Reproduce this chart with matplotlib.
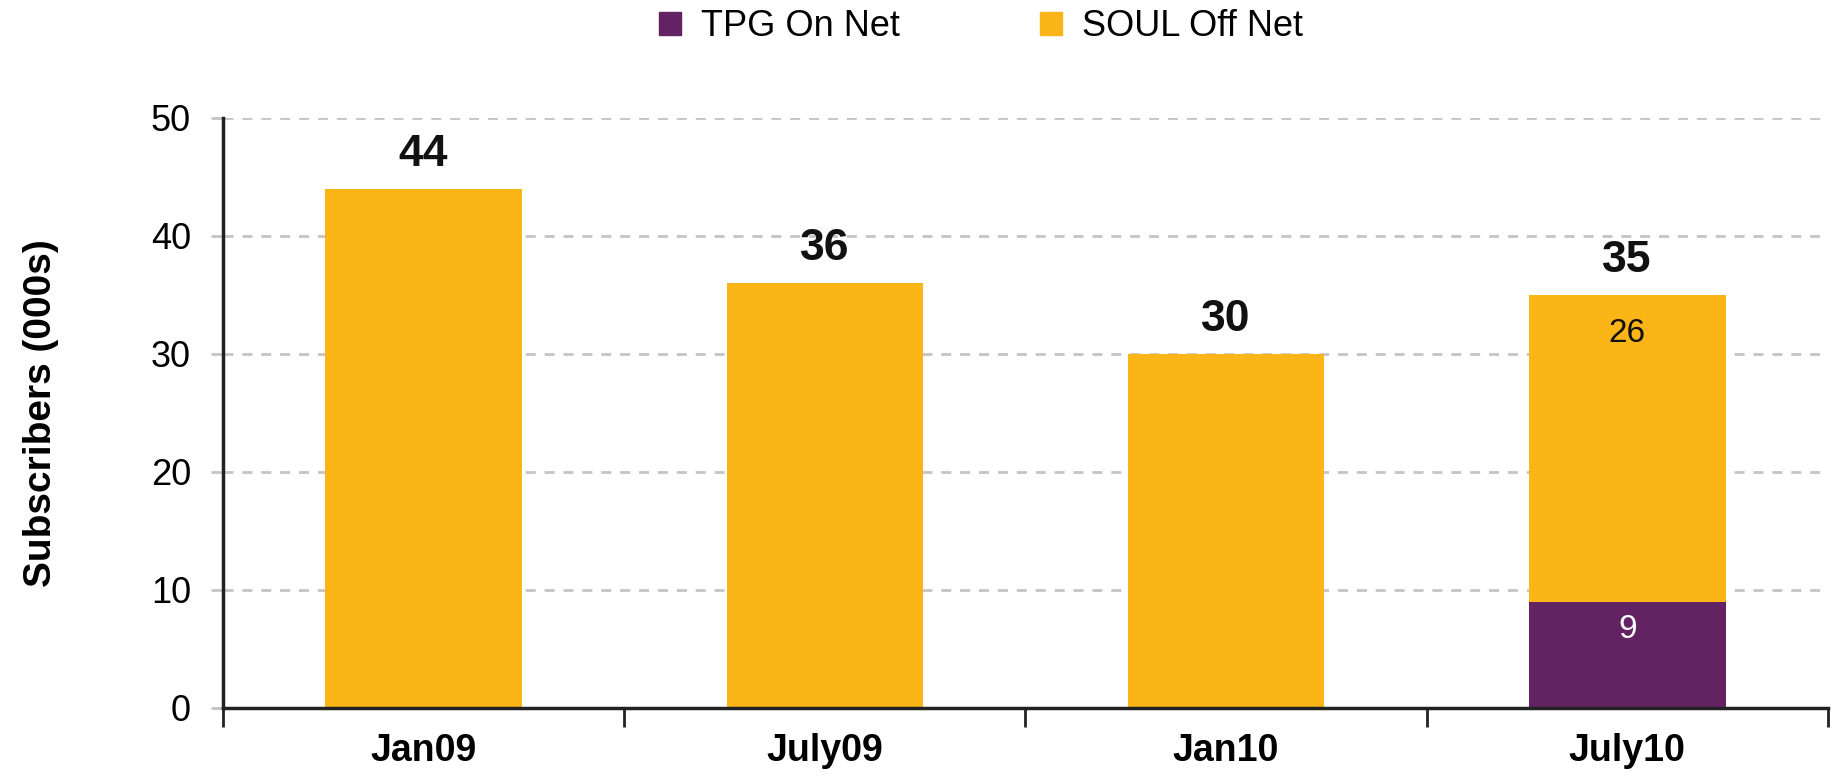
import matplotlib
matplotlib.use("Agg")
import matplotlib.pyplot as plt
from matplotlib.patches import Patch
import numpy as np

categories = ["Jan09", "July09", "Jan10", "July10"]
tpg_on_net = [0, 0, 0, 9]
soul_off_net = [44, 36, 30, 26]
totals = [44, 36, 30, 35]
series_names = ["TPG On Net", "SOUL Off Net"]
yticks = [0, 10, 20, 30, 40, 50]

PURPLE = "#632262"
ORANGE = "#FBB517"

plt.rcParams["font.family"] = ["Liberation Sans", "DejaVu Sans"]

fig = plt.figure(figsize=(18.37, 7.81), dpi=100)
ax = fig.add_axes([0.1214, 0.0935, 0.995 - 0.1214, 0.849 - 0.0935])

x = np.arange(len(categories))
w = 0.49
ax.bar(x, tpg_on_net, width=w, color=PURPLE, zorder=3)
ax.bar(x, soul_off_net, width=w, bottom=tpg_on_net, color=ORANGE, zorder=3)

# totals above bars
for xi, t in zip(x, totals):
    ax.annotate(str(t), xy=(xi, t), xytext=(0, 10), textcoords="offset points",
                ha="center", va="bottom", fontsize=32, fontweight="bold", color="#111111")

# segment labels (only where stacked)
for xi, p, o in zip(x, tpg_on_net, soul_off_net):
    if p > 0:
        ax.annotate(str(p), xy=(xi, p), xytext=(0, -20), textcoords="offset points",
                    ha="center", va="center", fontsize=24, color="white")
        ax.annotate(str(o), xy=(xi, p + o), xytext=(0, -28), textcoords="offset points",
                    ha="center", va="center", fontsize=24, color="#111111")

ax.set_xlim(-0.5, len(categories) - 0.5)
ax.set_ylim(0, 50)
ax.set_yticks(yticks)
ax.set_yticklabels([str(v) for v in yticks], fontsize=26)
for v in yticks[1:]:
    ax.axhline(v, color="#c4c4c4", lw=2, dashes=(3.6, 3.2), zorder=1)

ax.set_xticks(x)
ax.set_xticklabels(categories, fontsize=27, fontweight="bold")
ax.tick_params(axis="x", which="major", length=0, pad=18)
ax.set_xticks(np.arange(-0.5, len(categories)), minor=True)
ax.tick_params(axis="x", which="minor", length=14, width=2, color="#222222", direction="out")
ax.tick_params(axis="y", length=9, width=2, color="#c4c4c4", pad=14)
ax.yaxis.get_major_ticks()[0].tick1line.set_color("#222222")

for s in ["top", "right"]:
    ax.spines[s].set_visible(False)
for s in ["left", "bottom"]:
    ax.spines[s].set_linewidth(2.5)
    ax.spines[s].set_color("#222222")
    ax.spines[s].set_zorder(4)

ax.set_ylabel("Subscribers (000s)", fontsize=28, fontweight="bold", labelpad=66)

handles = [Patch(color=PURPLE), Patch(color=ORANGE)]
fig.legend(handles, series_names, loc="upper center", bbox_to_anchor=(0.534, 1.03),
           ncol=2, frameon=False, fontsize=26, handlelength=0.6, handleheight=0.6,
           columnspacing=3.9, handletextpad=0.55)

fig.savefig("out.png", dpi=100)
